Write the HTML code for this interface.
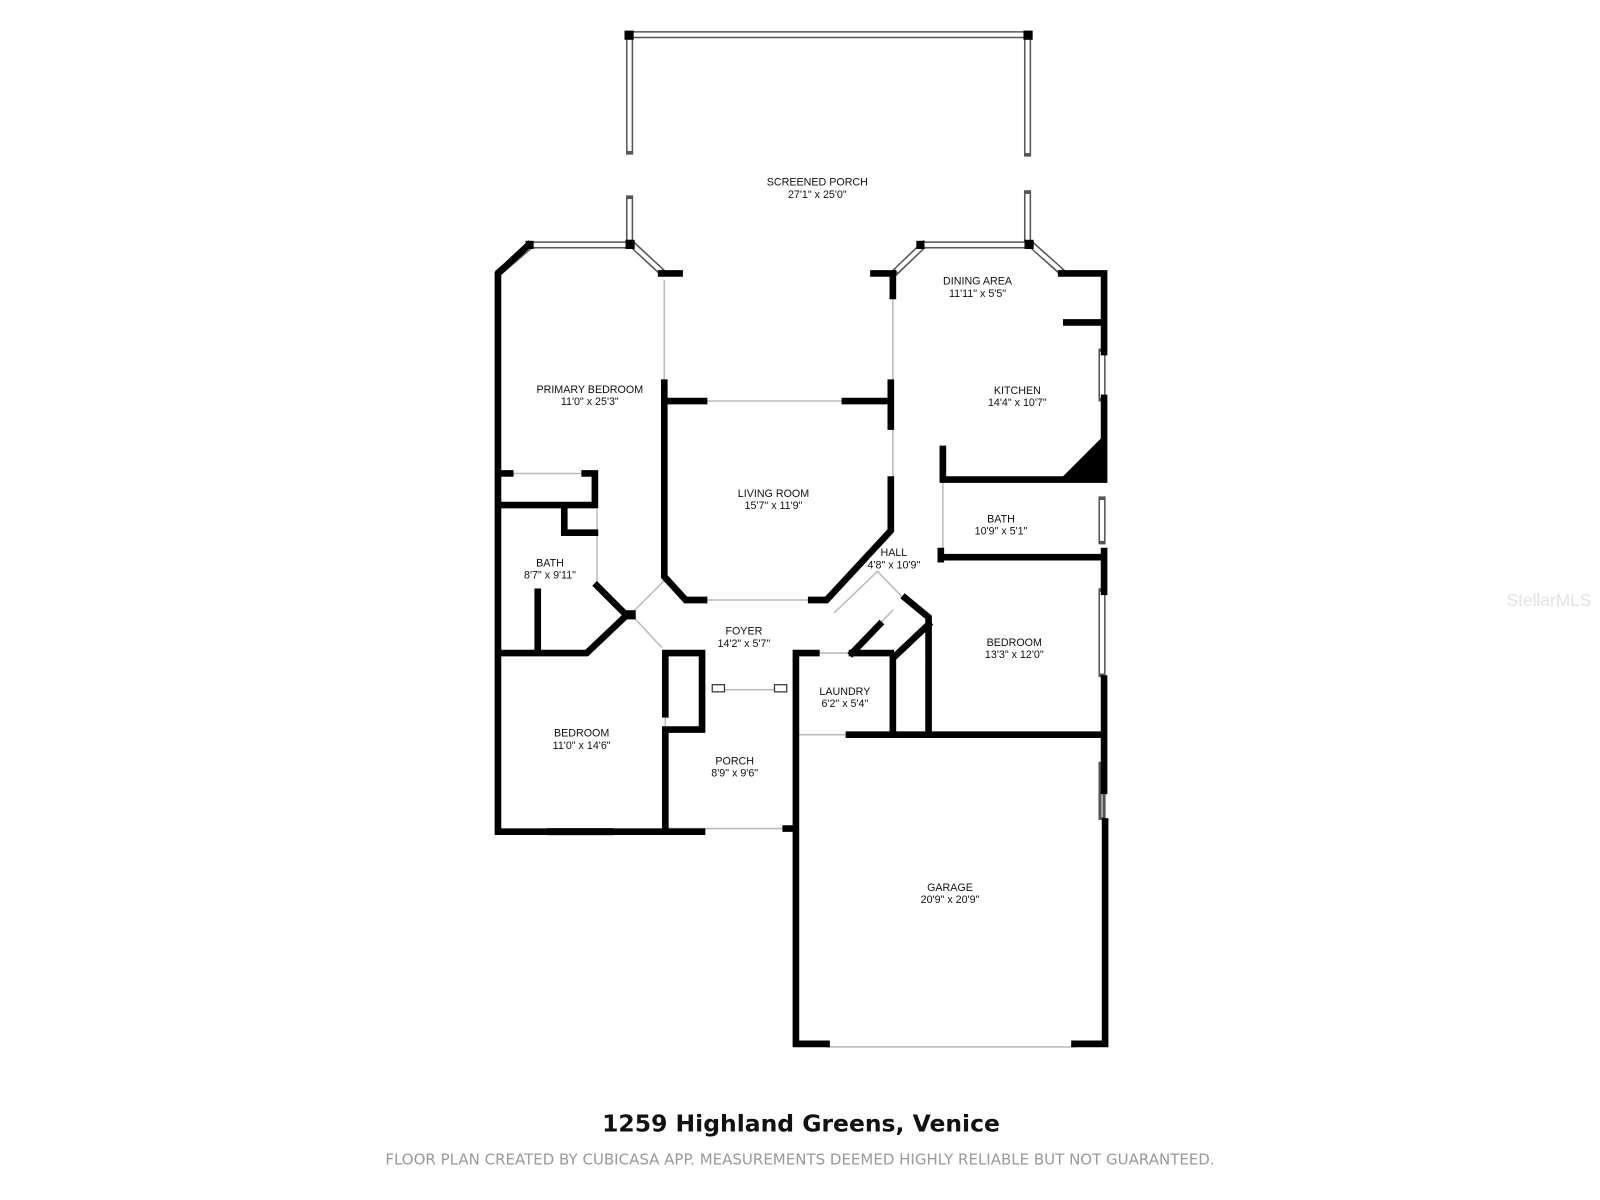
<!DOCTYPE html>
<html><head><meta charset="utf-8"><style>
html,body{margin:0;padding:0;background:#fff;width:1600px;height:1200px;overflow:hidden}
svg{display:block}
text{font-family:"Liberation Sans",sans-serif;fill:#111}
</style></head><body>
<svg width="1600" height="1200" viewBox="0 0 1568 1176" xmlns="http://www.w3.org/2000/svg">
<g fill="none" stroke-linecap="square">
<g stroke="#555" stroke-width="7"><path d="M620 34H1005 M617 38V148 M617 195V235 M1007 38V150 M1007 190V237 M522 240H614 M490 266L518 242 M620 240L648 266 M878 266L905 240 M905 240H1005 M1011 240L1040 266 M1080 345V390 M1080 490V530 M1080 580V660 M540 815H598 M1080 750V800"/></g>
<g stroke="#fff" stroke-width="4"><path d="M622 34H1003 M617 40V146 M617 197V233 M1007 40V148 M1007 192V235 M524 240H612 M492 264L516 244 M622 242L646 264 M880 264L903 242 M907 240H1003 M1013 242L1038 264 M1080 347V388 M1080 492V528 M1080 582V658 M542 815H596"/></g>
<g stroke="#bbb" stroke-width="1.5"><path d="M651 275V375 M690 393H828 M875 290V375 M875 420V470 M924 470V540 M690 588H795 M622 598L650 570 M622 606L648 634 M818 600L860 560 M860 560L885 586 M838 636L875 598 M800 640H835 M780 720H832 M910 620V705 M652 812H770 M703 676H768 M652 640V712 M1080 728V800 M810 1026H1053 M488 464H583 M585 500V570 M651 530V570"/></g>
<g stroke="#000" stroke-width="6.5">
<path d="M518 240L488 268V815H688 M488 640H575L614 603L585 574 M527 580V640 M488 495H583V464 M490 464H500 M573 464H583 M553 497V522H583 M651 375V565L672 588H690 M651 393H690 M828 393H873 M873 375V418 M873 470V520L810 588H795 M856 268H875V290 M1040 268H1082V345 M1045 316H1080 M1082 390V470 M924 440V470H1080 M924 546H1080 M922 540V548 M1082 540V580 M1082 665V720 M832 720H1082 M887 586L910 605V718 M910 612L875 645V720 M835 640L862 612 M835 640H873 M780 640H800 M780 640V1023H810 M1053 1023H1083V805 M1082 720V775 M652 640H688V715H652V812 M652 640V700 M770 812H780 M648 268H666"/>
</g>
<path d="M1040 470L1080 430V470Z" fill="#000" stroke="#000" stroke-width="2"/>
<g fill="#000" stroke="none"><rect x="612" y="30" width="9" height="9"/><rect x="1003" y="30" width="9" height="9"/><rect x="613" y="235" width="9" height="9"/><rect x="1004" y="235" width="9" height="9"/><rect x="515" y="236" width="8" height="8"/><rect x="898" y="236" width="8" height="8"/><rect x="614" y="598" width="9" height="9"/></g>
<g stroke="#333" stroke-width="1.2" fill="#fff"><rect x="698" y="671" width="12" height="7"/><rect x="759" y="671" width="12" height="7"/></g>
</g>
<g font-size="10.5" text-anchor="middle">
<text x="801" y="182">SCREENED PORCH</text><text x="801" y="194">27'1" x 25'0"</text>
<text x="958" y="279">DINING AREA</text><text x="958" y="291">11'11" x 5'5"</text>
<text x="578" y="385">PRIMARY BEDROOM</text><text x="578" y="397">11'0" x 25'3"</text>
<text x="997" y="386">KITCHEN</text><text x="997" y="398">14'4" x 10'7"</text>
<text x="758" y="487">LIVING ROOM</text><text x="758" y="499">15'7" x 11'9"</text>
<text x="981" y="512">BATH</text><text x="981" y="524">10'9" x 5'1"</text>
<text x="876" y="545">HALL</text><text x="876" y="557">4'8" x 10'9"</text>
<text x="539" y="555">BATH</text><text x="539" y="567">8'7" x 9'11"</text>
<text x="729" y="622">FOYER</text><text x="729" y="634">14'2" x 5'7"</text>
<text x="994" y="633">BEDROOM</text><text x="994" y="645">13'3" x 12'0"</text>
<text x="828" y="681">LAUNDRY</text><text x="828" y="693">6'2" x 5'4"</text>
<text x="570" y="722">BEDROOM</text><text x="570" y="734">11'0" x 14'6"</text>
<text x="720" y="749">PORCH</text><text x="720" y="761">8'9" x 9'6"</text>
<text x="931" y="873">GARAGE</text><text x="931" y="885">20'9" x 20'9"</text>
</g>
<text x="785" y="1109" font-size="23" text-anchor="middle" font-weight="bold" style="font-family:'DejaVu Sans',sans-serif">1259 Highland Greens, Venice</text>
<text x="784" y="1141" font-size="14.7" text-anchor="middle" style="fill:#999;font-family:'DejaVu Sans',sans-serif">FLOOR PLAN CREATED BY CUBICASA APP. MEASUREMENTS DEEMED HIGHLY RELIABLE BUT NOT GUARANTEED.</text>
<text x="1518" y="594" font-size="17" text-anchor="middle" style="fill:#e2e2e2">StellarMLS</text>
</svg>
</body></html>
